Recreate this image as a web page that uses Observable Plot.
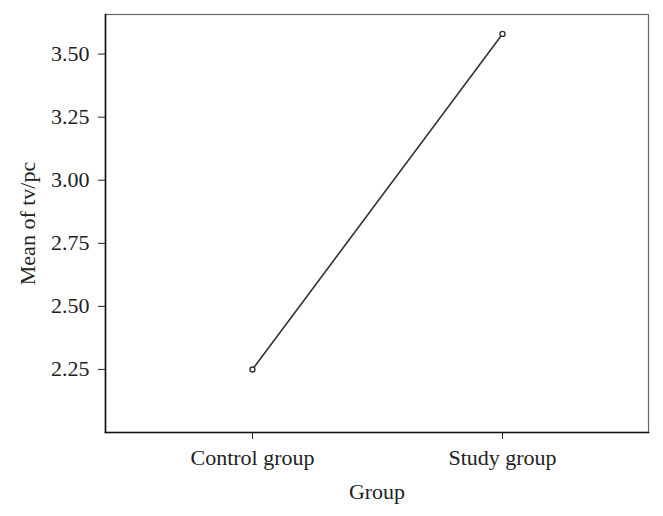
<!DOCTYPE html>
<html>
<head>
<meta charset="utf-8">
<script src="https://cdn.jsdelivr.net/npm/d3@7"></script>
<script src="https://cdn.jsdelivr.net/npm/@observablehq/plot@0.6"></script>
<style>
  html, body { margin: 0; padding: 0; background: #fff; }
  #chart svg { display: block; }
</style>
</head>
<body>
<div id="chart"></div>
<script>
const groups = ["Control group", "Study group"];
const means = [2.25, 3.58];
const yTicks = [2.25, 2.50, 2.75, 3.00, 3.25, 3.50];

const data = groups.map((g, i) => ({group: g, mean: means[i]}));

const chart = Plot.plot({
  width: 663,
  height: 516,
  marginLeft: 105,
  marginRight: 15,
  marginTop: 14,
  marginBottom: 84,
  style: {fontFamily: "'Liberation Serif', 'Times New Roman', serif", fontSize: "22px", color: "#222", background: "#fff"},
  x: {type: "point", domain: groups, padding: 0.585},
  y: {domain: [2.0, 3.657]},
  marks: [
    Plot.frame({stroke: "#666", strokeWidth: 1.2}),
    Plot.frame({anchor: "left", stroke: "#111", strokeWidth: 1.6}),
    Plot.frame({anchor: "bottom", stroke: "#111", strokeWidth: 1.6}),
    Plot.axisY({ticks: yTicks, tickFormat: d3.format(".2f"), tickSize: 7, tickPadding: 9, label: "Mean of tv/pc", labelAnchor: "center", labelArrow: "none", labelOffset: 86, fontSize: 22}),
    Plot.axisX({tickSize: 7, tickPadding: 10, label: "Group", labelAnchor: "center", labelArrow: "none", labelOffset: 66, fontSize: 22}),
    Plot.line(data, {x: "group", y: "mean", stroke: "#333", strokeWidth: 1.6}),
    Plot.dot(data, {x: "group", y: "mean", r: 2.5, stroke: "#333", strokeWidth: 1.4, fill: "#fff"})
  ]
});
document.getElementById("chart").appendChild(chart);
</script>
</body>
</html>
